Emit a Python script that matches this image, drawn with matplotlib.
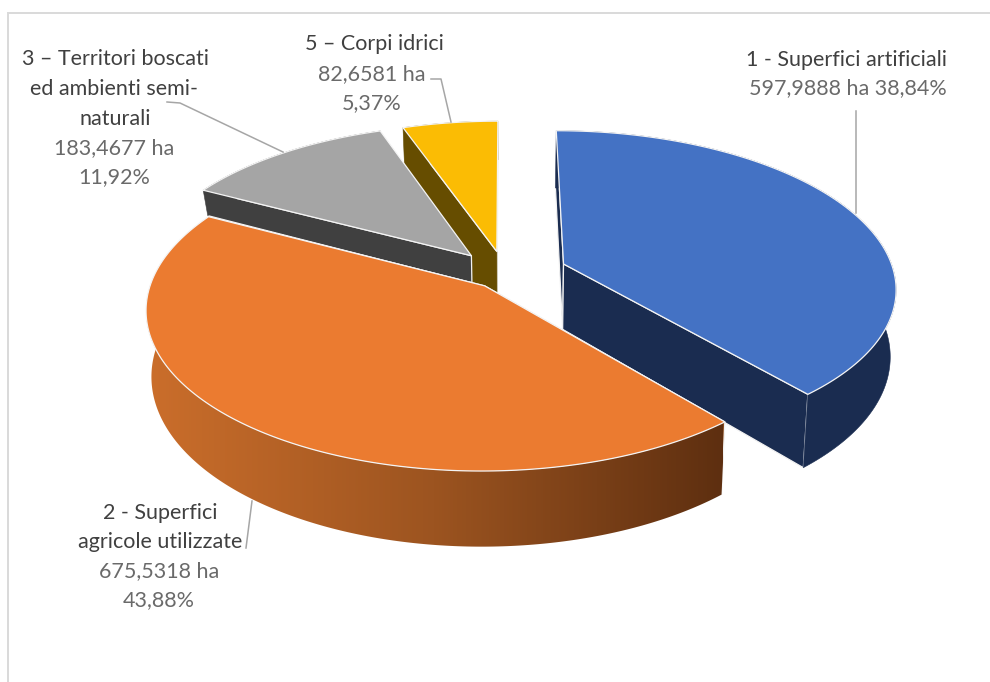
import numpy as np
import matplotlib
matplotlib.use("Agg")
import matplotlib.pyplot as plt
from matplotlib.patches import Polygon
from matplotlib.colors import LinearSegmentedColormap

plt.rcParams['font.family'] = ['Lato', 'DejaVu Sans']

# --- data ---
names = ["1 - Superfici artificiali", "2 - Superfici agricole utilizzate",
         "3 – Territori boscati ed ambienti semi-naturali", "5 – Corpi idrici"]
hectares = [597.9888, 675.5318, 183.4677, 82.6581]
hectare_labels = ["597,9888 ha", "675,5318 ha", "183,4677 ha", "82,6581 ha"]
percent_labels = ["38,84%", "43,88%", "11,92%", "5,37%"]

# --- style ---
explode = [0.19, 0.097, 0.158, 0.15]
heights = [66, 64, 27.5, 45]
top_colors = ["#4472C4", "#EB7B30", "#A5A5A5", "#FBBC04"]
wall_colors = ["#1A2C50", "#8A4A1C", "#404040", "#664D00"]
draw_order = [3, 2, 0, 1]
CX, CY, R, RY, K, TAPER = 505, 274, 331, 155, 0.143, 0.015
GREY = "#A6A6A6"
DARK = "#404040"
MID = "#6A6A6A"

fig = plt.figure(figsize=(9.9, 6.82), dpi=100)
ax = fig.add_axes([0, 0, 1, 1])


def project(X, Y, z, h):
    s = 1 / (1 + K * Y)
    return CX + R * X * s * (1 - TAPER * z), CY - RY * Y * s + h * z * s


shares = np.array(hectares) / np.sum(hectares)
edges = np.concatenate([[0], np.cumsum(shares)]) * 2 * np.pi
grad = LinearSegmentedColormap.from_list("o", ["#CB6E2B", "#9C5420", "#5E2F10"])


def apex(i):
    mid = (edges[i] + edges[i + 1]) / 2
    return explode[i] * np.sin(mid), explode[i] * np.cos(mid)


for i in draw_order:
    a0, a1 = edges[i], edges[i + 1]
    ox, oy = apex(i)
    h = heights[i]
    th = np.linspace(a0, a1, 240)
    X, Y = ox + np.sin(th), oy + np.cos(th)
    xt, yt = project(X, Y, 0, h)
    xb, yb = project(X, Y, 1, h)
    ax_, ay_ = project(ox, oy, 0, h)
    bx_, by_ = project(ox, oy, 1, h)

    # radial walls
    for j in (0, -1):
        if i == 2 and j == -1:
            continue
        ax.add_patch(Polygon([(ax_, ay_), (xt[j], yt[j]), (xb[j], yb[j]), (bx_, by_)],
                             fc=wall_colors[i], ec="#F2F2F2", lw=0.9, joinstyle="round"))
    if i == 3:
        # the wall of the small slice runs on behind the neighbouring slice's apex
        gx, gy = apex(2)
        g0 = project(gx, gy, 0, heights[2])
        g1 = project(gx, gy, 1, heights[2])
        ax.add_patch(Polygon([g0, g1, (bx_, by_), (ax_, ay_)],
                             fc=wall_colors[i], ec=wall_colors[i], lw=0.5))
    # outer wall
    wall_xy = np.column_stack([np.r_[xt, xb[::-1]], np.r_[yt, yb[::-1]]])
    if i == 1:
        wall = Polygon(wall_xy, fc="none", ec="none")
        ax.add_patch(wall)
        img = ax.imshow(np.linspace(0, 1, 512)[None, :], cmap=grad, vmin=0, vmax=1,
                        extent=(146, 723, 560, 300), aspect="auto", zorder=1.2)
        img.set_clip_path(wall)
        top_z = 1.3
    else:
        ax.add_patch(Polygon(wall_xy, fc=wall_colors[i], ec=wall_colors[i], lw=0.4))
        top_z = None
    # top face
    top = Polygon(np.column_stack([np.r_[ax_, xt], np.r_[ay_, yt]]),
                  fc=top_colors[i], ec="#F4F4F4", lw=0.9, joinstyle="round")
    if top_z is not None:
        top.set_zorder(top_z)
    ax.add_patch(top)

ax.set_xlim(0, 990)
ax.set_ylim(682, 0)
ax.axis("off")

# frame
ax.plot([8, 8, 990], [682, 13, 13], color="#D9D9D9", lw=1.4, solid_joinstyle="miter", zorder=3)

# leader lines
for lx, ly in [([856, 856], [111, 213]),
               ([246, 252], [548, 501]),
               ([167, 180, 283], [102, 103, 152]),
               ([431, 441, 451], [79, 79, 122])]:
    ax.plot(lx, ly, color=GREY, lw=1.1, zorder=3)

# labels
FS = 15.5
def put(x, y, s, c):
    ax.text(x, y, s, ha="center", va="center", fontsize=FS, color=c)

put(846, 60, names[0], DARK)
put(848, 88, hectare_labels[0] + " " + percent_labels[0], MID)

put(160, 513, "2 - Superfici", DARK)
put(160, 542, "agricole utilizzate", DARK)
put(159, 571, hectare_labels[1], MID)
put(159, 600, percent_labels[1], MID)

put(115, 59, "3 – Territori boscati", DARK)
put(114, 89, "ed ambienti semi-", DARK)
put(115, 119, "naturali", DARK)
put(114, 148, hectare_labels[2], MID)
put(114, 177, percent_labels[2], MID)

put(374, 44, names[3], DARK)
put(372, 74, hectare_labels[3], MID)
put(372, 103, percent_labels[3], MID)

fig.savefig("out.png", dpi=100, facecolor="white")
